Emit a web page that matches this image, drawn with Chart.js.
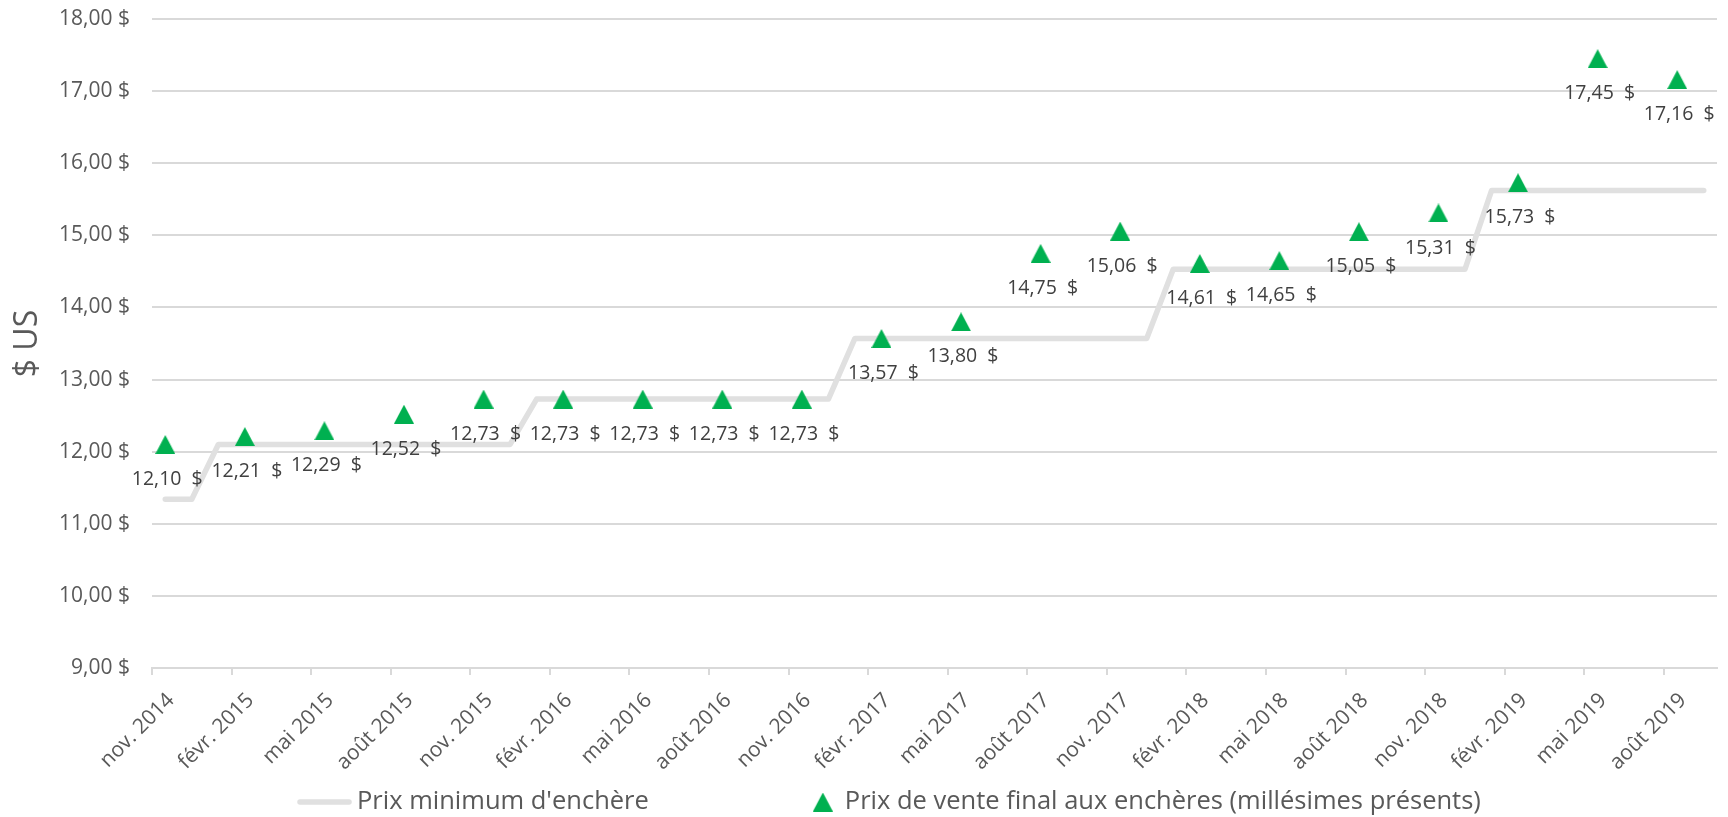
<!DOCTYPE html>
<html lang="fr">
<head>
<meta charset="utf-8">
<title>Prix d'enchère</title>
<script src="https://cdn.jsdelivr.net/npm/chart.js@4/dist/chart.umd.min.js"></script>
<style>
  html, body { margin: 0; padding: 0; background: #fff; }
  #wrap { width: 1728px; height: 817px; position: relative; }
</style>
</head>
<body>
<div id="wrap"><canvas id="chart"></canvas></div>
<script>
/* Data */
const tickLabels = ['nov. 2014', 'févr. 2015', 'mai 2015', 'août 2015', 'nov. 2015',
  'févr. 2016', 'mai 2016', 'août 2016', 'nov. 2016', 'févr. 2017', 'mai 2017',
  'août 2017', 'nov. 2017', 'févr. 2018', 'mai 2018', 'août 2018', 'nov. 2018',
  'févr. 2019', 'mai 2019', 'août 2019'];

const auctionMonths = ['2014-11', '2015-02', '2015-05', '2015-08', '2015-11',
  '2016-02', '2016-05', '2016-08', '2016-11', '2017-02', '2017-05', '2017-08',
  '2017-11', '2018-02', '2018-05', '2018-08', '2018-11', '2019-02', '2019-05', '2019-08'];
const salePrices = [12.10, 12.21, 12.29, 12.52, 12.73, 12.73, 12.73, 12.73, 12.73,
  13.57, 13.80, 14.75, 15.06, 14.61, 14.65, 15.05, 15.31, 15.73, 17.45, 17.16];

const reserveMonths = ['2014-11', '2014-12', '2015-01', '2015-12', '2016-01', '2016-12',
  '2017-01', '2017-12', '2018-01', '2018-12', '2019-01', '2019-09'];
const reservePrices = [11.34, 11.34, 12.10, 12.10, 12.73, 12.73,
  13.57, 13.57, 14.53, 14.53, 15.62, 15.62];

const seriesNames = ["Prix minimum d'enchère", 'Prix de vente final aux enchères (millésimes présents)'];

/* months since nov. 2014, mid-month */
function monthPos(s) {
  const [y, m] = s.split('-').map(Number);
  return (y - 2014) * 12 + (m - 11) + 0.5;
}

function money(v, gap) {
  return v.toFixed(2).replace('.', ',') + gap + '$';
}

const GREEN = '#00B050';
const LINE_GREY = '#e0e0e0';
const FONT = "'Open Sans', sans-serif";

/* Triangle marker */
const tri = document.createElement('canvas');
tri.width = 20; tri.height = 19;
(function () {
  const c = tri.getContext('2d');
  c.fillStyle = GREEN;
  c.beginPath();
  c.moveTo(10, 0);
  c.lineTo(20, 19);
  c.lineTo(0, 19);
  c.closePath();
  c.fill();
})();

/* Value labels under the triangles */
const pointLabels = {
  id: 'pointLabels',
  afterDatasetsDraw(chart) {
    const ctx = chart.ctx;
    const meta = chart.getDatasetMeta(0);
    ctx.save();
    ctx.font = '19.5px ' + FONT;
    ctx.fillStyle = '#404040';
    ctx.textAlign = 'center';
    ctx.textBaseline = 'middle';
    meta.data.forEach((pt, i) => {
      ctx.fillText(money(salePrices[i], '\u00a0\u00a0'), pt.x + 2, pt.y + 35);
    });
    ctx.restore();
  }
};

/* Legend */
const bottomLegend = {
  id: 'bottomLegend',
  afterDraw(chart) {
    const ctx = chart.ctx;
    const y = 802;
    let x = 297;
    ctx.save();
    ctx.font = '25.5px ' + FONT;
    ctx.fillStyle = '#595959';
    ctx.textBaseline = 'middle';

    ctx.strokeStyle = LINE_GREY;
    ctx.lineWidth = 5.5;
    ctx.lineCap = 'round';
    ctx.beginPath();
    ctx.moveTo(x + 3, y);
    ctx.lineTo(x + 52, y);
    ctx.stroke();
    x += 60;
    ctx.fillText(seriesNames[0], x, y);
    x += ctx.measureText(seriesNames[0]).width + 164;

    ctx.drawImage(tri, x, y - 9.5);
    x += 32;
    ctx.fillText(seriesNames[1], x, y);
    ctx.restore();
  }
};

new Chart(document.getElementById('chart'), {
  type: 'scatter',
  data: {
    datasets: [{
      label: seriesNames[1],
      data: auctionMonths.map((m, i) => ({ x: monthPos(m), y: salePrices[i] })),
      pointStyle: tri,
      pointRadius: 10,
      showLine: false
    }, {
      label: seriesNames[0],
      type: 'line',
      data: reserveMonths.map((m, i) => ({ x: monthPos(m), y: reservePrices[i] })),
      borderColor: LINE_GREY,
      borderWidth: 5.5,
      borderCapStyle: 'round',
      borderJoinStyle: 'round',
      pointRadius: 0,
      tension: 0,
      fill: false
    }]
  },
  options: {
    responsive: true,
    maintainAspectRatio: false,
    animation: false,
    events: [],
    layout: { padding: { top: 19, right: 8, left: 0, bottom: 0 } },
    plugins: {
      legend: { display: false },
      tooltip: { enabled: false }
    },
    scales: {
      x: {
        type: 'linear',
        min: 0,
        max: 59,
        afterFit(scale) { scale.height = 149; },
        border: { color: '#d9d9d9', width: 2 },
        grid: { drawOnChartArea: false, drawTicks: true, tickLength: 7, color: '#d9d9d9', lineWidth: 2 },
        ticks: {
          stepSize: 3,
          includeBounds: false,
          autoSkip: false,
          minRotation: 45,
          maxRotation: 45,
          labelOffset: 19,
          padding: 13,
          color: '#595959',
          font: { family: FONT, size: 21 },
          callback: (v) => tickLabels[Math.round(v / 3)]
        }
      },
      y: {
        min: 9,
        max: 18,
        afterFit(scale) { scale.width = 152; },
        border: { display: false },
        grid: { color: '#d9d9d9', lineWidth: 2, drawTicks: true, tickLength: 22, tickColor: 'rgba(0,0,0,0)' },
        ticks: {
          stepSize: 1,
          padding: 0,
          color: '#595959',
          font: { family: FONT, size: 21 },
          callback: (v) => money(v, ' ')
        },
        title: {
          display: true,
          text: '$ US',
          color: '#595959',
          font: { family: FONT, size: 32 },
          padding: { top: 9, bottom: 0 }
        }
      }
    }
  },
  plugins: [pointLabels, bottomLegend]
});
</script>
</body>
</html>
